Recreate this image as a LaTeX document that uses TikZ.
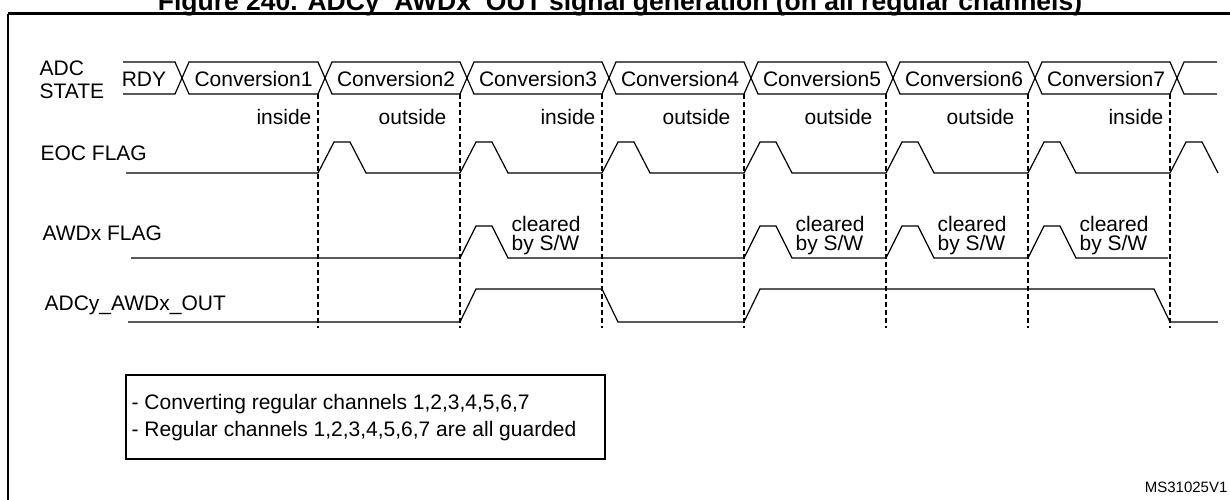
\documentclass[tikz,border=0pt]{standalone}
\usepackage{fontspec}
\setmainfont{Liberation Sans}

\begin{document}
\begin{tikzpicture}[x=1pt,y=-1pt,line width=1.2pt,
  every node/.style={inner sep=0pt,font=\fontsize{21}{21}\selectfont},
  guide/.style={line width=1.1pt,dash pattern=on 5pt off 3pt},
  frame/.style={line width=2.6pt}]
\useasboundingbox (0,0) rectangle (1230,499);

\node[anchor=base,font=\bfseries\fontsize{26.5}{26.5}\selectfont] (title) at (620,10) {Figure 240. ADCy\_AWDx\_OUT signal generation (on all regular channels)};
\draw[frame] (8,13.5) -- (1250,13.5) (8,13.5) -- (8,520);

% signal names
\node[anchor=base west] (adc) at (39,75) {ADC};
\node[anchor=base west] (state) at (39,98) {STATE};
\node[anchor=base west] (eoc) at (40,160) {EOC FLAG};
\node[anchor=base west] (awd) at (42,240) {AWDx FLAG};
\node[anchor=base west] (out) at (44,310) {ADCy\_AWDx\_OUT};

% ADC state bus
\draw (123,62) -- (175,62) -- (182,78) -- (175,94) -- (123,94);
\draw (182,78) -- (189,62) -- (318,62) -- (325,78) -- (318,94) -- (189,94) -- cycle;
\draw (325,78) -- (332,62) -- (460,62) -- (467,78) -- (460,94) -- (332,94) -- cycle;
\draw (467,78) -- (474,62) -- (602,62) -- (609,78) -- (602,94) -- (474,94) -- cycle;
\draw (609,78) -- (616,62) -- (744,62) -- (751,78) -- (744,94) -- (616,94) -- cycle;
\draw (751,78) -- (758,62) -- (886,62) -- (893,78) -- (886,94) -- (758,94) -- cycle;
\draw (893,78) -- (900,62) -- (1028,62) -- (1035,78) -- (1028,94) -- (900,94) -- cycle;
\draw (1035,78) -- (1042,62) -- (1170,62) -- (1177,78) -- (1170,94) -- (1042,94) -- cycle;
\draw (1217,62) -- (1184,62) -- (1177,78) -- (1184,94) -- (1217,94);

\node[anchor=base] (rdy) at (144,86) {RDY};
\node[anchor=base] (c1) at (253.5,86) {Conversion1};
\node[anchor=base] (c2) at (396,86) {Conversion2};
\node[anchor=base] (c3) at (538,86) {Conversion3};
\node[anchor=base] (c4) at (680,86) {Conversion4};
\node[anchor=base] (c5) at (822,86) {Conversion5};
\node[anchor=base] (c6) at (964,86) {Conversion6};
\node[anchor=base] (c7) at (1106,86) {Conversion7};

\node[anchor=base east] (w1) at (312,124) {inside};
\node[anchor=base east] (w2) at (447,124) {outside};
\node[anchor=base east] (w3) at (596,124) {inside};
\node[anchor=base east] (w4) at (731,124) {outside};
\node[anchor=base east] (w5) at (873,124) {outside};
\node[anchor=base east] (w6) at (1015,124) {outside};
\node[anchor=base east] (w7) at (1164,124) {inside};

% end of conversion marks
\draw[guide] (318,94) -- (318,328) (460,94) -- (460,328) (602,94) -- (602,328)
  (744,94) -- (744,328) (886,94) -- (886,328) (1028,94) -- (1028,328) (1170,94) -- (1170,328);

% EOC FLAG
\draw (126,173) -- (318,173) -- (334,142) -- (350,142) -- (366,173)
  -- (460,173) -- (476,142) -- (492,142) -- (508,173)
  -- (602,173) -- (618,142) -- (634,142) -- (650,173)
  -- (744,173) -- (760,142) -- (776,142) -- (792,173)
  -- (886,173) -- (902,142) -- (918,142) -- (934,173)
  -- (1028,173) -- (1044,142) -- (1060,142) -- (1076,173)
  -- (1170,173) -- (1186,142) -- (1202,142) -- (1218,173);

% AWDx FLAG
\draw (131,258) -- (460,258) -- (476,226) -- (492,226) -- (508,258)
  -- (744,258) -- (760,226) -- (776,226) -- (792,258)
  -- (886,258) -- (902,226) -- (918,226) -- (934,258)
  -- (1028,258) -- (1044,226) -- (1060,226) -- (1076,258) -- (1168,258);

\node[anchor=base west] (k1) at (511,231) {cleared};
\node[anchor=base west] (s1) at (511,250) {by S/W};
\node[anchor=base west] (k2) at (795,231) {cleared};
\node[anchor=base west] (s2) at (795,250) {by S/W};
\node[anchor=base west] (k3) at (937,231) {cleared};
\node[anchor=base west] (s3) at (937,250) {by S/W};
\node[anchor=base west] (k4) at (1079,231) {cleared};
\node[anchor=base west] (s4) at (1079,250) {by S/W};

% ADCy_AWDx_OUT
\draw (128,322) -- (460,322) -- (476,289) -- (602,289) -- (618,322)
  -- (744,322) -- (760,289) -- (1154,289) -- (1170,322) -- (1218,322);

% note
\draw (126,375) rectangle (605,459);
\node[anchor=base west] (n1) at (131,409) {- Converting regular channels 1,2,3,4,5,6,7};
\node[anchor=base west] (n2) at (131,436) {- Regular channels 1,2,3,4,5,6,7 are all guarded};

\node[anchor=base east,font=\fontsize{15}{15}\selectfont] (ms) at (1228,492) {MS31025V1};
\end{tikzpicture}
\end{document}
